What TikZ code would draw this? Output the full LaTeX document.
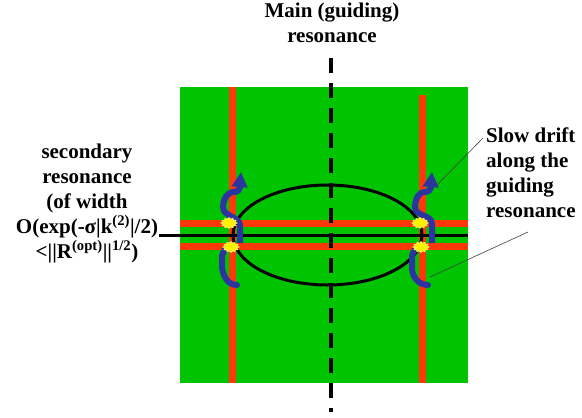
\documentclass[tikz,border=0pt]{standalone}
\usepackage{fontspec}
\setmainfont{Liberation Serif}
\usetikzlibrary{arrows.meta,shapes.geometric,positioning}
\definecolor{field}{RGB}{0,196,0}
\definecolor{resred}{RGB}{255,56,10}
\definecolor{drift}{RGB}{44,52,160}

\begin{document}
\begin{tikzpicture}[x=1pt,y=-1pt]
   \tikzstyle{lab}=[font=\fontsize{21}{25}\selectfont\bfseries,inner sep=0pt]
   \tikzstyle{res}=[resred,line width=7pt]
   \tikzstyle{flow}=[drift,line width=6pt,-{Triangle[length=15pt,width=15pt]}]
   \tikzstyle{flowend}=[drift,line width=6pt,line cap=round]
   \tikzstyle{spark}=[star,star points=12,star point ratio=1.35,fill=yellow,draw=yellow!50,line width=0.5pt,inner sep=0pt,minimum size=11pt,xscale=1.5]
   \tikzstyle{ptr}=[black!75,line width=0.6pt]

   \useasboundingbox (0,0) rectangle (582,418);
   \fill [field] (180,87) rectangle (468,383);
   \draw [res] (232.5,87) -- (232.5,383);
   \draw [res] (422.5,95) -- (422.5,383);
   \draw [res] (180,223.5) -- (468,223.5);
   \draw [res] (180,246.5) -- (468,246.5);

   \node (sec) [lab,align=center] at (87,203) {secondary\\resonance\\(of width\\O(exp(-σ|k\textsuperscript{(2)}|/2)\\<||R\textsuperscript{(opt)}||\textsuperscript{1/2})};
   \coordinate (w2) at (468,235);
   \draw [line width=3pt] ([xshift=1pt]sec.east |- w2) -- (w2);
   \node (orbit) [ellipse,draw,line width=3pt,minimum width=189pt,minimum height=100pt] at (327.5,235) {};

   \node (main) [lab,align=center] at (332,23) {Main (guiding)\\resonance};
   \coordinate (m1) at (331,58);
   \coordinate (m2) at (331,412);
   \draw [line width=4pt,dash pattern=on 15pt off 10pt] (m1) -- (m2);

   \draw [flowend] (237,285) to[out=180,in=-90] (222,265) -- (222,256) to[out=90,in=-110] (226,248);
   \draw [flow] (240,243) -- (240,226) to[out=90,in=-90] (223,207) to[out=90,in=180] (234,192) to[out=0,in=-95] (241,172);
   \draw [flowend] (428,285) to[out=180,in=-90] (412,268) -- (412,256) to[out=90,in=-110] (416,248);
   \draw [flow] (432,243) -- (432,224) to[out=90,in=-90] (415,207) to[out=90,in=180] (425,192) to[out=0,in=-95] (432,172);

   \node (k1) [spark] at (229,223) {};
   \node (k2) [spark] at (231,247) {};
   \node (k3) [spark] at (420,223) {};
   \node (k4) [spark] at (421,247) {};

   \node (slow) [lab,align=left,anchor=west] at (486,173) {Slow drift\\along the\\guiding\\resonance};
   \coordinate (d1) at (483,138);
   \coordinate (t1) at (437,185);
   \coordinate (d2) at (528,232);
   \coordinate (t2) at (430,277);
   \draw [ptr] (d1) -- (t1);
   \draw [ptr] (d2) -- (t2);
\end{tikzpicture}
\end{document}
